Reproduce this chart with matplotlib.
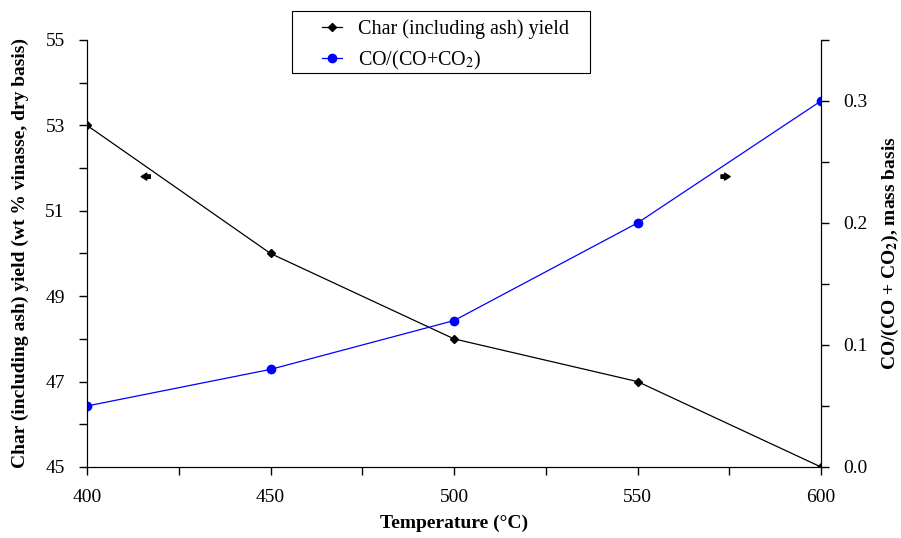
import matplotlib
matplotlib.use("Agg")
import matplotlib.pyplot as plt
from matplotlib.patches import Rectangle
from matplotlib.ticker import MultipleLocator, FormatStrFormatter

plt.rcParams['font.family'] = ['Liberation Serif', 'DejaVu Serif']
plt.rcParams['mathtext.fontset'] = 'stix'

# temperatures and measured values
temperature = [400, 450, 500, 550, 600]
char_yield = [53, 50, 48, 47, 45]          # wt % vinasse, dry basis
co_ratio = [0.05, 0.08, 0.12, 0.20, 0.30]  # CO/(CO+CO2), mass basis

fig = plt.figure(figsize=(9.01, 5.38), dpi=100)
ax1 = fig.add_axes([0.0966, 0.132, 0.8146, 0.7937])
ax2 = ax1.twinx()

l1, = ax1.plot(temperature, char_yield, color='black', lw=0.9,
               marker='D', markersize=4, label='Char (including ash) yield')
l2, = ax2.plot(temperature, co_ratio, color='blue', lw=0.9,
               marker='o', markersize=6, label='CO/(CO+CO$_2$)')

ax1.set_xlim(400, 600)
ax1.set_ylim(45, 55)
ax2.set_ylim(0, 0.35)

ax1.xaxis.set_major_locator(MultipleLocator(50))
ax1.xaxis.set_minor_locator(MultipleLocator(25))
ax1.set_yticks([45, 47, 49, 51, 53, 55])
ax1.set_yticks([46, 48, 50, 52, 54], minor=True)
ax2.set_yticks([0.0, 0.1, 0.2, 0.3])
ax2.yaxis.set_minor_locator(MultipleLocator(0.05))
ax2.yaxis.set_major_formatter(FormatStrFormatter('%.1f'))

for ax in (ax1, ax2):
    ax.spines['top'].set_visible(False)
    ax.tick_params(which='both', direction='out', labelsize=14, width=1,
                   length=6, pad=10)

ax1.set_xlabel('Temperature (°C)', fontsize=14, fontweight='bold', labelpad=6)
ax1.set_ylabel('Char (including ash) yield (wt % vinasse, dry basis)',
               fontsize=14, fontweight='bold', labelpad=12)
ax2.set_ylabel('CO/(CO + CO$_\\mathbf{2}$), mass basis',
               fontsize=14, fontweight='bold', labelpad=9)

# arrows showing which axis each series belongs to
arrow_style = 'simple,head_length=0.4,head_width=0.5,tail_width=0.25'
ax1.annotate('', xy=(414, 51.8), xytext=(418, 51.8),
             arrowprops=dict(arrowstyle=arrow_style, color='black'))
ax1.annotate('', xy=(576, 51.8), xytext=(572, 51.8),
             arrowprops=dict(arrowstyle=arrow_style, color='black'))

# legend without its own frame, boxed by a wider rectangle
leg = fig.legend(handles=[l1, l2], loc='upper left',
                 bbox_to_anchor=(314 / 901, 1 - 11 / 538),
                 fontsize=14.5, frameon=False,
                 handlelength=1.0, handletextpad=0.8,
                 labelspacing=0.5, borderaxespad=0)
fig.patches.append(Rectangle((292 / 901, 1 - 73 / 538), 298 / 901, 62 / 538,
                             transform=fig.transFigure, fill=True,
                             facecolor='white', edgecolor='black', lw=0.8,
                             zorder=0))

fig.savefig('out.png', dpi=100)
